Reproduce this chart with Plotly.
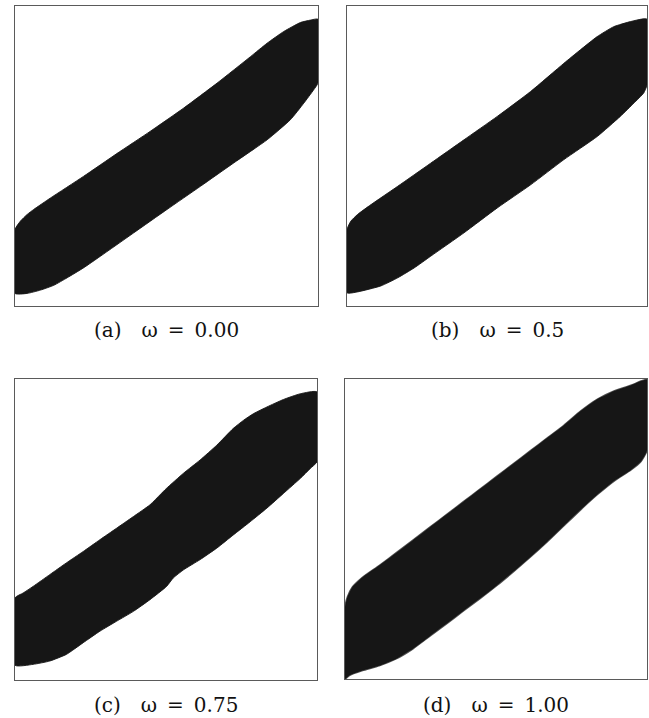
import plotly.graph_objects as go

# Upper and lower boundaries of the sample band for each omega (unit square coordinates)
a_upper_x = [0, .018, .040, .062, .117, .226, .336, .446, .557, .667, .777, .832, .887, .942, .975, 1]
a_upper_y = [.255, .283, .305, .322, .360, .432, .508, .582, .660, .743, .831, .876, .915, .945, .953, .956]
a_lower_x = [0, .040, .084, .128, .172, .226, .282, .392, .502, .612, .722, .832, .909, .953, .986, 1]
a_lower_y = [.042, .042, .053, .069, .094, .127, .166, .244, .322, .399, .477, .554, .621, .676, .721, .743]

b_upper_x = [0, .013, .035, .080, .169, .279, .390, .501, .612, .723, .778, .834, .889, .945, 1]
b_upper_y = [.255, .283, .305, .338, .399, .476, .554, .632, .715, .809, .854, .898, .931, .948, .956]
b_lower_x = [0, .035, .113, .169, .224, .279, .390, .501, .612, .723, .834, .911, .956, .989, 1]
b_lower_y = [.044, .047, .067, .094, .127, .166, .244, .327, .404, .488, .565, .632, .676, .710, .737]

c_upper_x = [0, .027, .060, .115, .170, .226, .281, .336, .392, .447, .480, .502, .558, .613,
             .668, .723, .757, .790, .834, .889, .945, 1]
c_upper_y = [.273, .289, .311, .350, .389, .427, .466, .504, .543, .582, .615, .637, .687, .731,
             .780, .836, .863, .885, .907, .932, .951, .957]
c_lower_x = [0, .060, .115, .170, .226, .281, .336, .392, .447, .502, .524, .558, .613, .668,
             .723, .779, .834, .889, .945, .978, 1]
c_lower_y = [.049, .052, .063, .085, .124, .162, .195, .228, .267, .311, .339, .366, .400, .438,
             .482, .526, .571, .620, .670, .703, .725]

d_upper_x = [0, .008, .024, .058, .113, .169, .224, .280, .336, .391, .447, .502, .558, .613,
             .669, .724, .780, .836, .891, .947, .980, 1]
d_upper_y = [.239, .273, .306, .339, .378, .420, .462, .505, .548, .590, .633, .675, .718, .760,
             .803, .845, .893, .933, .960, .979, .993, .998]
d_lower_x = [0, .013, .058, .113, .169, .224, .280, .336, .391, .447, .502, .558, .613, .669,
             .724, .780, .836, .891, .947, .980, 1]
d_lower_y = [0, .011, .028, .044, .067, .100, .142, .184, .226, .268, .311, .358, .406, .457,
             .510, .564, .615, .660, .697, .725, .762]

captions = ["(a)\u2003\u03c9\u2002=\u20020.00", "(b)\u2003\u03c9\u2002=\u20020.5",
            "(c)\u2003\u03c9\u2002=\u20020.75", "(d)\u2003\u03c9\u2002=\u20021.00"]

bands = [
    (a_upper_x, a_upper_y, a_lower_x, a_lower_y),
    (b_upper_x, b_upper_y, b_lower_x, b_lower_y),
    (c_upper_x, c_upper_y, c_lower_x, c_lower_y),
    (d_upper_x, d_upper_y, d_lower_x, d_lower_y),
]

W, H = 649, 718
# panel boxes in pixels: left, right, top, bottom
boxes = [(15, 318, 6, 306), (347, 647, 6, 306), (15, 317, 379, 680), (345, 647, 379, 679)]
caption_y = [330, 330, 705, 705]

fig = go.Figure()
ink = "#161616"

for i, ((ux, uy, lx, ly), (l, r, t, b)) in enumerate(zip(bands, boxes)):
    n = "" if i == 0 else str(i + 1)
    px = ux + lx[::-1] + [ux[0]]
    py = uy + ly[::-1] + [uy[0]]
    edge_w = 1.6 if i == 3 else 1.0
    edge_c = "rgba(22,22,22,0.75)" if i == 3 else "rgba(22,22,22,0.9)"
    fig.add_trace(go.Scatter(
        x=px, y=py, mode="lines", fill="toself", fillcolor=ink,
        line=dict(color=edge_c, width=edge_w, shape="spline", smoothing=0.5),
        hoverinfo="skip", xaxis="x" + n, yaxis="y" + n, showlegend=False,
    ))
    ax = dict(range=[0, 1], showgrid=False, zeroline=False, showticklabels=False, ticks="",
              showline=True, mirror=True, linecolor="#5a5a5a", linewidth=1, fixedrange=True)
    fig.layout["xaxis" + n] = go.layout.XAxis(domain=[l / W, r / W], anchor="y" + n, **ax)
    fig.layout["yaxis" + n] = go.layout.YAxis(domain=[1 - b / H, 1 - t / H], anchor="x" + n, **ax)
    fig.add_annotation(
        x=(l + r) / 2 / W, y=1 - caption_y[i] / H, xref="paper", yref="paper",
        text=captions[i], showarrow=False, xanchor="center", yanchor="middle",
        font=dict(family="DejaVu Serif", size=20, color="#111111"),
    )

fig.update_layout(
    width=W, height=H, margin=dict(l=0, r=0, t=0, b=0),
    paper_bgcolor="white", plot_bgcolor="white",
)

fig.write_html("out.html")
